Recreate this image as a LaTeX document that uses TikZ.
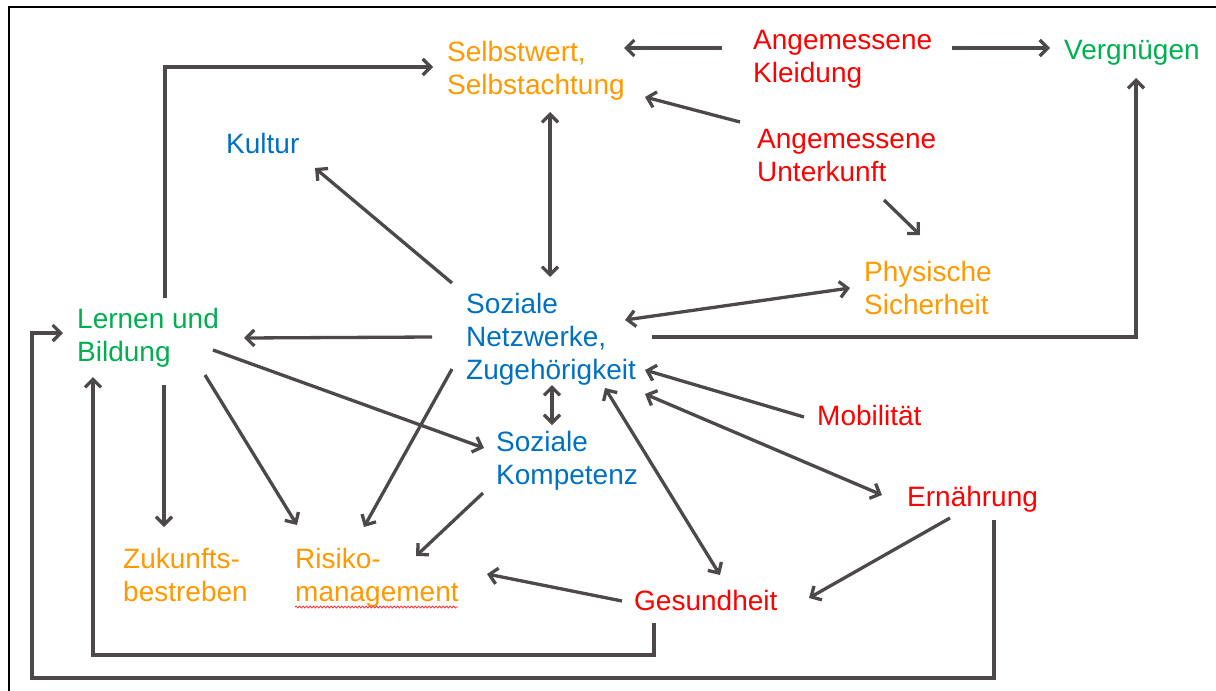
\documentclass[tikz,border=0pt]{standalone}
\usepackage{fontspec}
\setmainfont{Liberation Sans}
\usetikzlibrary{arrows.meta,decorations.pathmorphing}
\definecolor{cOr}{RGB}{255,153,0}
\definecolor{cRd}{RGB}{255,0,0}
\definecolor{cGr}{RGB}{0,176,80}
\definecolor{cBl}{RGB}{0,112,192}
\definecolor{cLn}{RGB}{77,72,73}
\tikzset{
  lbl/.style={anchor=base west, align=left, inner sep=0pt, font=\fontsize{28}{33}\selectfont},
  con/.style={draw=cLn, line width=3.3pt, -{Straight Barb[length=8pt,width=16pt]}},
  dcon/.style={draw=cLn, line width=3.3pt, {Straight Barb[length=8pt,width=16pt]}-{Straight Barb[length=8pt,width=16pt]}},
}
\begin{document}
\begin{tikzpicture}[x=1pt,y=-1pt]
\useasboundingbox (0,0) rectangle (1216,691);
\draw[black, line width=2pt] (9,691) -- (9,7) -- (1216,7);
% nodes (placed by the baseline of their last line)
\node[lbl, text=cOr] (sw) at (447,94) {Selbstwert,\\Selbstachtung};
\node[lbl, text=cRd] (kl) at (753,82) {Angemessene\\Kleidung};
\node[lbl, text=cGr] (ve) at (1064,59) {Vergnügen};
\node[lbl, text=cBl] (ku) at (226,153) {Kultur};
\node[lbl, text=cRd] (un) at (757,181) {Angemessene\\Unterkunft};
\node[lbl, text=cOr] (ph) at (864,314) {Physische\\Sicherheit};
\node[lbl, text=cBl] (sn) at (466,379) {Soziale\\Netzwerke,\\Zugehörigkeit};
\node[lbl, text=cGr] (le) at (77,361) {Lernen und\\Bildung};
\node[lbl, text=cRd] (mo) at (817,425) {Mobilität};
\node[lbl, text=cBl] (sk) at (496,484) {Soziale\\Kompetenz};
\node[lbl, text=cRd] (er) at (907,506) {Ernährung};
\node[lbl, text=cOr] (zu) at (123,601) {Zukunfts-\\bestreben};
\node[lbl, text=cOr] (ri) at (295,601) {Risiko-\\management};
\node[lbl, text=cRd] (ge) at (634,610) {Gesundheit};
% spell-check squiggle
\draw[cRd!80, line width=0.8pt, decorate, decoration={snake, amplitude=1pt, segment length=3.5pt}]
  ([shift={(0,6)}]ri.base west) -- ([shift={(163,6)}]ri.base west);
% connectors
\draw[con] ([shift={(-31,-34)}]kl.base west) -- ([shift={(177,-46)}]sw.base west);
\draw[con] ([shift={(199,-34)}]kl.base west) -- ([shift={(-14,-11)}]ve.base west);
\draw[con] ([shift={(-17,-59)}]un.base west) -- ([shift={(198,3)}]sw.base west);
\draw[con] ([shift={(127,19)}]un.base west) -- ([shift={(56,-79)}]ph.base west);
\draw[dcon] ([shift={(103,18)}]sw.base west) -- ([shift={(84,-102)}]sn.base west);
\draw[con] ([shift={(-14,-96)}]sn.base west) -- ([shift={(89,15)}]ku.base west);
\draw[con] ([shift={(88,-63)}]le.base west) |- ([shift={(-14,-27)}]sw.base west);
\draw[con] ([shift={(-34,-42)}]sn.base west) -- ([shift={(167,-23)}]le.base west);
\draw[dcon] ([shift={(159,-59)}]sn.base west) -- ([shift={(-14,-26)}]ph.base west);
\draw[con] ([shift={(186,-42)}]sn.base west) -| ([shift={(72,19)}]ve.base west);
\draw[dcon] ([shift={(86,6)}]sn.base west) -- ([shift={(56,-59)}]sk.base west);
\draw[con] ([shift={(136,-11)}]le.base west) -- ([shift={(-12,-36)}]sk.base west);
\draw[con] ([shift={(87,24)}]le.base west) -- ([shift={(41,-74)}]zu.base west);
\draw[con] ([shift={(128,14)}]le.base west) -- ([shift={(2,-76)}]ri.base west);
\draw[con] ([shift={(-14,-10)}]sn.base west) -- ([shift={(69,-74)}]ri.base west);
\draw[con] ([shift={(-13,9)}]sk.base west) -- ([shift={(121,-45)}]ri.base west);
\draw[con] ([shift={(-13,-8)}]mo.base west) -- ([shift={(179,-9)}]sn.base west);
\draw[dcon] ([shift={(179,15)}]sn.base west) -- ([shift={(-25,-11)}]er.base west);
\draw[dcon] ([shift={(139,9)}]sn.base west) -- ([shift={(86,-35)}]ge.base west);
\draw[con] ([shift={(43,12)}]er.base west) -- ([shift={(175,-12)}]ge.base west);
\draw[con] ([shift={(-12,-9)}]ge.base west) -- ([shift={(192,-27)}]ri.base west);
\draw[con] ([shift={(20,13)}]ge.base west) -- ++(0,32) -| ([shift={(16,16)}]le.base west);
\draw[con] ([shift={(87,14)}]er.base west) -- ++(0,158) -- ++(-962,0) |- ([shift={(-14,-28)}]le.base west);
\end{tikzpicture}
\end{document}
